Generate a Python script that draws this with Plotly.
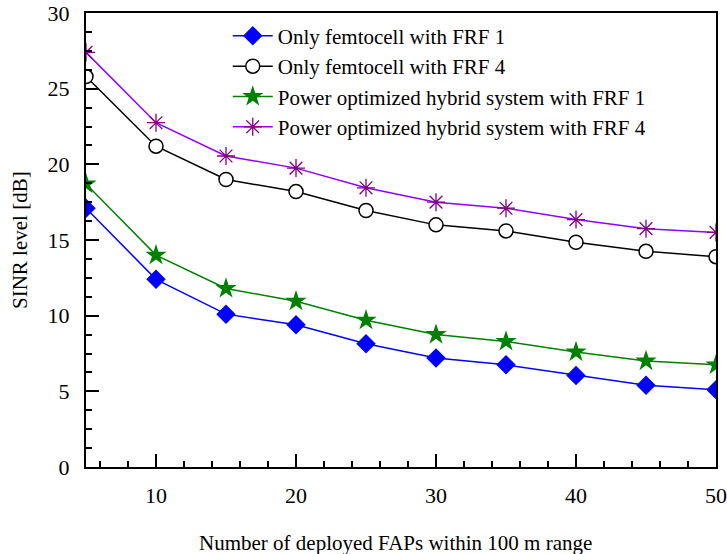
import plotly.graph_objects as go

x_faps = [5, 10, 15, 20, 25, 30, 35, 40, 45, 50]
femto_frf1 = [17.1, 12.4, 10.1, 9.4, 8.15, 7.2, 6.75, 6.05, 5.4, 5.1]
femto_frf4 = [25.8, 21.2, 19.0, 18.2, 16.95, 16.0, 15.6, 14.85, 14.25, 13.9]
hybrid_frf1 = [18.7, 14.0, 11.8, 10.95, 9.7, 8.75, 8.3, 7.6, 7.0, 6.75]
hybrid_frf4 = [27.4, 22.75, 20.55, 19.75, 18.45, 17.5, 17.1, 16.35, 15.75, 15.5]

names = [
    "Only femtocell with FRF 1",
    "Only femtocell with FRF 4",
    "Power optimized hybrid system with FRF 1",
    "Power optimized hybrid system with FRF 4",
]
x_title = "Number of deployed FAPs within 100 m range"
y_title = "SINR level [dB]"

fig = go.Figure()
fig.add_trace(go.Scatter(x=x_faps, y=femto_frf1, name=names[0], mode="lines+markers",
                         line=dict(color="#0000FF", width=1.5),
                         marker=dict(symbol="diamond", size=15, color="#0000FF")))
fig.add_trace(go.Scatter(x=x_faps, y=femto_frf4, name=names[1], mode="lines+markers",
                         line=dict(color="#000000", width=1.5),
                         marker=dict(symbol="circle", size=14, color="white",
                                     line=dict(color="black", width=1.5))))
fig.add_trace(go.Scatter(x=x_faps, y=hybrid_frf1, name=names[2], mode="lines+markers",
                         line=dict(color="#008000", width=1.5),
                         marker=dict(symbol="star", size=16, color="#008000")))
fig.add_trace(go.Scatter(x=x_faps, y=hybrid_frf4, name=names[3], mode="lines+markers",
                         line=dict(color="#8F00FF", width=1.5),
                         marker=dict(symbol="asterisk-open", size=15, color="#800080",
                                     line=dict(color="#800080", width=1.3))))

font_family = "Liberation Serif, Times New Roman, serif"
fig.update_layout(
    width=727, height=554,
    margin=dict(l=86, r=11, t=13, b=87),
    paper_bgcolor="white", plot_bgcolor="white",
    font=dict(family=font_family, color="black", size=22),
    showlegend=True,
    legend=dict(x=0.225, y=0.994, xanchor="left", yanchor="top",
                bgcolor="rgba(0,0,0,0)", font=dict(size=21, family=font_family),
                itemwidth=40, tracegroupgap=0),
    xaxis=dict(range=[5, 50], tickmode="array", tickvals=[10, 20, 30, 40, 50],
               ticks="inside", ticklen=13, tickwidth=1.5, tickcolor="black",
               minor=dict(dtick=2, tick0=0, ticks="inside", ticklen=6, tickwidth=1.5, tickcolor="black"),
               showline=True, linecolor="black", linewidth=2, mirror=True,
               showgrid=False, zeroline=False, automargin=False,
               ticklabelstandoff=8,
               tickfont=dict(size=22)),
    yaxis=dict(range=[0, 30], dtick=5, tick0=0,
               ticks="inside", ticklen=13, tickwidth=1.5, tickcolor="black",
               minor=dict(dtick=1.25, tick0=0, ticks="inside", ticklen=6, tickwidth=1.5, tickcolor="black"),
               showline=True, linecolor="black", linewidth=2, mirror=True,
               showgrid=False, zeroline=False, automargin=False,
               ticklabelstandoff=10,
               tickfont=dict(size=22)),
    annotations=[
        dict(text=x_title, xref="paper", yref="paper", x=0.5, xshift=-6, y=0, yshift=-76,
             xanchor="center", yanchor="middle", showarrow=False, font=dict(size=21)),
        dict(text=y_title, xref="paper", yref="paper", x=0, xshift=-66, y=0.5,
             xanchor="center", yanchor="middle", textangle=-90, showarrow=False, font=dict(size=21)),
    ],
)

fig.write_html("out.html",
               config={"displayModeBar": False},
               post_script="document.body.style.margin='0';document.body.style.overflow='hidden';")
